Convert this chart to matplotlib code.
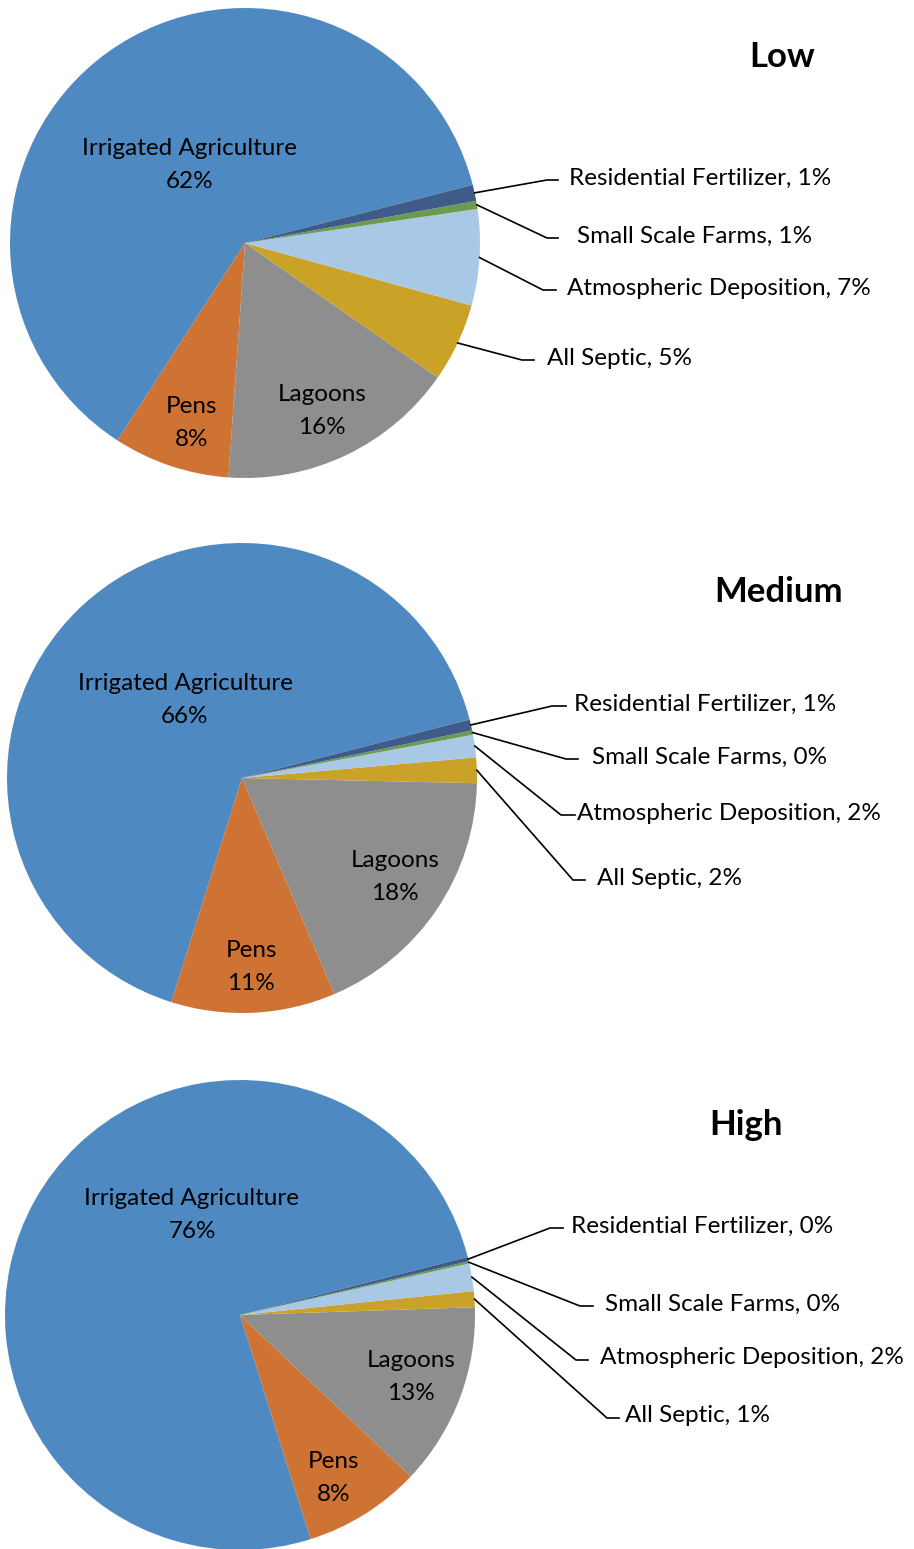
import numpy as np
import matplotlib
matplotlib.use("Agg")
import matplotlib.pyplot as plt

W, H = 914, 1549

categories = ["Irrigated Agriculture", "Pens", "Lagoons", "All Septic",
              "Atmospheric Deposition", "Small Scale Farms", "Residential Fertilizer"]
colors = ["#4F89C2", "#CF7335", "#8E8E8E", "#C9A227", "#A8C8E6", "#6E9A4D", "#3E5B8A"]

scenarios = ["Low", "Medium", "High"]
low_values = [61.8, 8.0, 16.4, 5.4, 6.6, 0.55, 1.1]
medium_values = [66.1, 11.3, 18.2, 1.75, 1.55, 0.3, 0.75]
high_values = [76.0, 8.1, 12.6, 1.1, 1.9, 0.15, 0.3]
all_values = [low_values, medium_values, high_values]

# layout (pixel coords, y down)
centers = [(245, 243), (242, 778), (240, 1315)]
radius = 235
start_angles = [14.3, 14.4, 14.3]
title_pos = [(782, 57), (779, 592), (746, 1125)]
inner_pos = [
    [(190, 165), (192, 423), (322, 411)],
    [(185, 700), (251, 967), (395, 877)],
    [(192, 1215), (334, 1478), (411, 1377)],
]
# leader line elbow points and label left x for small slices (septic, atmos, small, residential)
leader = [
    {3: (522, 360, 534, 547), 4: (543, 290, 556, 567), 5: (547, 238, 558, 577), 6: (547, 180, 558, 569)},
    {3: (573, 880, 585, 597), 4: (561, 815, 575, 577), 5: (566, 759, 578, 592), 6: (552, 706, 566, 574)},
    {3: (607, 1418, 619, 625), 4: (576, 1360, 588, 600), 5: (580, 1306, 593, 605), 6: (550, 1228, 563, 571)},
]

plt.rcParams['font.family'] = ['Lato', 'DejaVu Sans']
fig = plt.figure(figsize=(W / 100, H / 100), dpi=100)
ax = fig.add_axes([0, 0, 1, 1])

for k, vals in enumerate(all_values):
    cx, cy = centers[k]
    wedges, _ = ax.pie(vals, colors=colors, startangle=start_angles[k], counterclock=True,
                       center=(cx, H - cy), radius=radius, frame=True,
                       wedgeprops=dict(linewidth=0))
    total = sum(vals)
    pcts = [round(v / total * 100) for v in vals]
    for i in range(3):
        x, y = inner_pos[k][i]
        ax.text(x, H - y, f"{categories[i]}\n{pcts[i]}%", ha='center', va='center',
                fontsize=17.5, linespacing=1.65, color='black')
    for i in range(3, 7):
        w = wedges[i]
        mid = np.deg2rad((w.theta1 + w.theta2) / 2)
        sx = cx + radius * np.cos(mid)
        sy = H - cy + radius * np.sin(mid)
        ex, ey, hx, lx = leader[k][i]
        ax.plot([sx, ex, hx], [sy, H - ey, H - ey], color='black', lw=1.2)
        ax.text(lx, H - ey + 2, f"{categories[i]}, {pcts[i]}%", ha='left', va='center',
                fontsize=17.5, color='black')
    tx, ty = title_pos[k]
    ax.text(tx, H - ty, scenarios[k], ha='center', va='center', fontsize=25,
            fontweight='bold', color='black')

ax.set_xlim(0, W)
ax.set_ylim(0, H)
ax.set_aspect('equal')
ax.axis('off')
fig.savefig("out.png", dpi=100)
